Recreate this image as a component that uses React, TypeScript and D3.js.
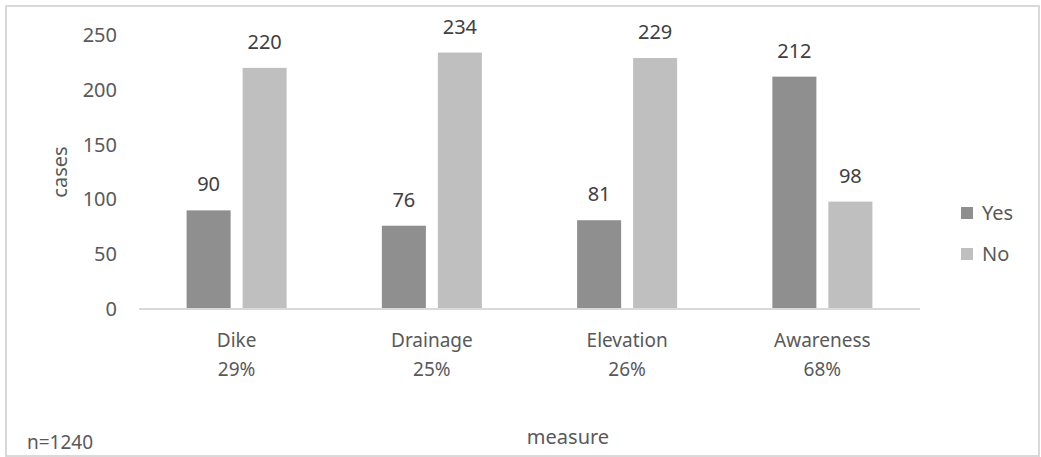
import React from 'react';
import * as d3 from 'd3';

const categories = ['Dike', 'Drainage', 'Elevation', 'Awareness'];
const shares = ['29%', '25%', '26%', '68%'];
const seriesNames = ['Yes', 'No'];
const yesValues = [90, 76, 81, 212];
const noValues = [220, 234, 229, 98];
const yTicks = [0, 50, 100, 150, 200, 250];

const W = 1041;
const H = 457;
const FONT = '"Noto Sans", "Open Sans", sans-serif';
const TEXT = '#595959';
const colors: Record<string, string> = { Yes: '#8f8f8f', No: '#bfbfbf' };

const App = () => {
    const x = d3.scaleBand().domain(categories).range([139, 920]);
    const inner = d3.scaleBand()
        .domain(seriesNames)
        .range([0, x.bandwidth()])
        .paddingInner(0.214)
        .paddingOuter(0.85);
    const y = d3.scaleLinear().domain([0, 250]).range([309, 35]);

    const rows = categories.map((c, i) => ({ cat: c, Yes: yesValues[i], No: noValues[i] }));

    return (
        <svg width={W} height={H} style={{ position: 'absolute', left: 0, top: 0, background: '#fff' }}
            fontFamily={FONT}>
            <rect x={6} y={6} width={1033} height={450} fill="#fff" stroke="#d9d9d9" strokeWidth={2} />

            {/* y tick labels */}
            {yTicks.map(t => (
                <text key={t} x={117} y={y(t)} dy="0.35em" textAnchor="end" fontSize={20} fill={TEXT}>{t}</text>
            ))}

            {/* bars + value labels */}
            {rows.map(r => (
                <g key={r.cat} transform={`translate(${x(r.cat)},0)`}>
                    {seriesNames.map(s => {
                        const v = (r as any)[s] as number;
                        const bx = inner(s) as number;
                        return (
                            <g key={s}>
                                <rect x={bx} y={y(v)} width={inner.bandwidth()} height={y(0) - y(v)} fill={colors[s]} />
                                <text x={bx + inner.bandwidth() / 2} y={y(v) - 19} textAnchor="middle"
                                    fontSize={20} fill="#404040">{v}</text>
                            </g>
                        );
                    })}
                </g>
            ))}

            {/* x axis line */}
            <line x1={139} x2={920} y1={y(0)} y2={y(0)} stroke="#d9d9d9" strokeWidth={2} />

            {/* category labels */}
            {categories.map((c, i) => (
                <text key={c} x={(x(c) as number) + x.bandwidth() / 2} textAnchor="middle" fontSize={19} fill={TEXT}>
                    <tspan x={(x(c) as number) + x.bandwidth() / 2} y={347}>{c}</tspan>
                    <tspan x={(x(c) as number) + x.bandwidth() / 2} y={376}>{shares[i]}</tspan>
                </text>
            ))}

            {/* axis titles */}
            <text transform={`translate(60,${(y(0) + y(250)) / 2}) rotate(-90)`} dy="0.35em" textAnchor="middle"
                fontSize={20} fill={TEXT}>cases</text>
            <text x={568} y={437} dy="0.35em" textAnchor="middle" fontSize={20} fill={TEXT}>measure</text>
            <text x={27} y={449} fontSize={19} fill={TEXT}>n=1240</text>

            {/* legend */}
            {seriesNames.map((s, i) => (
                <g key={s} transform={`translate(961,${213 + i * 41})`}>
                    <rect x={0} y={-6} width={12} height={12} fill={colors[s]} />
                    <text x={21} y={0} dy="0.35em" fontSize={20} fill={TEXT}>{s}</text>
                </g>
            ))}
        </svg>
    );
};

export default App;
